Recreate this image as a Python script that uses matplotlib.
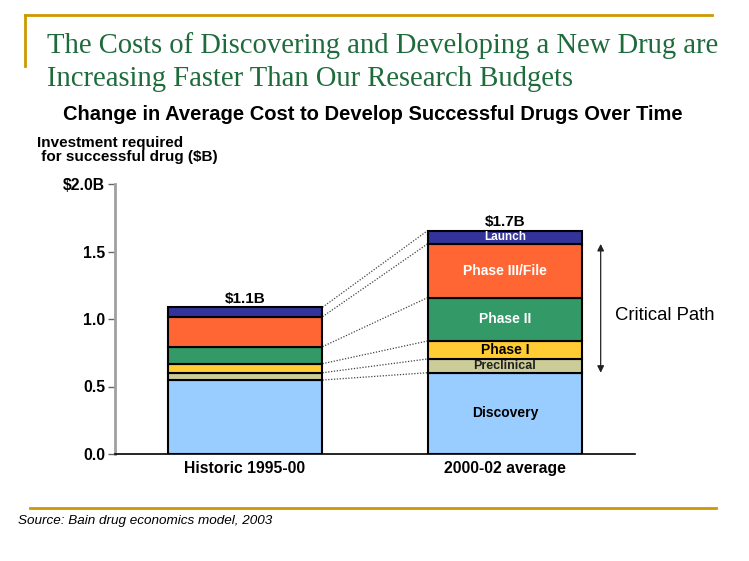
import numpy as np
import matplotlib.pyplot as plt
from matplotlib.lines import Line2D

# data
periods = ["Historic 1995-00", "2000-02 average"]
stages = ["Discovery", "Preclinical", "Phase I", "Phase II", "Phase III/File", "Launch"]
historic = [0.548, 0.054, 0.067, 0.126, 0.222, 0.070]
recent = [0.602, 0.102, 0.133, 0.321, 0.398, 0.098]
totals_text = ["$1.1B", "$1.7B"]
ytick_labels = ["0.0", "0.5", "1.0", "1.5", "$2.0B"]

colors = ["#99CCFF", "#CCCC99", "#FFCC33", "#339966", "#FF6633", "#333399"]
label_colors = ["black", "#222222", "black", "white", "white", "white"]
label_sizes = [10, 9, 10, 10, 10, 8.5]

plt.rcParams["font.family"] = ["Liberation Sans", "DejaVu Sans"]

W, H = 749, 561
fig = plt.figure(figsize=(W / 100, H / 100), dpi=100)

def fx(px):
    return px / W

def fy(py):
    return 1 - py / H

ax = fig.add_axes([fx(115), fy(454), fx(635) - fx(115), fy(184) - fy(454)])

x = np.arange(len(periods))
width = 0.596
data = np.array([historic, recent])
bottoms = np.zeros(len(periods))
for i, stage in enumerate(stages):
    ax.bar(x, data[:, i], width, bottom=bottoms, color=colors[i],
           edgecolor="black", linewidth=1.5, zorder=3)
    bottoms += data[:, i]

# labels inside the right bar
cum = np.cumsum(recent)
for i, stage in enumerate(stages):
    mid = cum[i] - recent[i] / 2
    ax.text(x[1], mid, stage, ha="center", va="center", fontsize=label_sizes[i],
            fontweight="bold", color=label_colors[i], zorder=4)

# totals
for xi, tot, txt in zip(x, bottoms, totals_text):
    ax.text(xi, tot + 0.01, txt, ha="center", va="bottom", fontsize=11,
            fontweight="bold", zorder=4)

# dotted connectors between bars
cum_h = np.cumsum(historic)
levels_h = np.concatenate([[historic[0]], cum_h[1:]])
levels_r = np.concatenate([[recent[0]], cum[1:]])
for yh, yr in zip(levels_h, levels_r):
    ax.plot([x[0] + width / 2, x[1] - width / 2], [yh, yr], ls=(0, (1, 1.3)),
            color="#444444", lw=0.9, zorder=2)

# critical path arrow
ax.annotate("", xy=(1.368, cum[4]), xytext=(1.368, recent[0]),
            arrowprops=dict(arrowstyle="<|-|>", color="#222222", lw=0.9,
                            mutation_scale=10, shrinkA=0, shrinkB=0))
fig.text(fx(615), fy(316), "Critical Path", fontsize=13.3, va="center", ha="left")

ax.set_xlim(-0.5, 1.5)
ax.set_ylim(0, 2.0)
ax.set_yticks([0, 0.5, 1.0, 1.5, 2.0])
ax.set_yticklabels(ytick_labels, fontsize=11.3, fontweight="bold")
ax.set_xticks(x)
ax.set_xticklabels(periods, fontsize=11.3, fontweight="bold")
ax.tick_params(axis="x", length=0, pad=5)
ax.tick_params(axis="y", length=5, color="#666666", width=1, pad=2)
ax.spines["top"].set_visible(False)
ax.spines["right"].set_visible(False)
ax.spines["left"].set_color("#A0A0A0")
ax.spines["left"].set_linewidth(2)
ax.spines["bottom"].set_color("black")
ax.spines["bottom"].set_linewidth(1.2)

# slide decoration
gold = "#CC9900"
fig.add_artist(Line2D([fx(25), fx(712)], [fy(15), fy(15)], color=gold, lw=2))
fig.add_artist(Line2D([fx(25), fx(25)], [fy(15), fy(66)], color=gold, lw=2))
fig.add_artist(Line2D([fx(30), fx(716)], [fy(508), fy(508)], color=gold, lw=2))

green = "#1E6B3C"
fig.text(fx(47), fy(53), "The Costs of Discovering and Developing a New Drug are",
         family=["Liberation Serif", "DejaVu Serif"], fontsize=20.6, color=green,
         va="baseline")
fig.text(fx(47), fy(86), "Increasing Faster Than Our Research Budgets",
         family=["Liberation Serif", "DejaVu Serif"], fontsize=20.6, color=green,
         va="baseline")
fig.text(fx(373), fy(115), "Change in Average Cost to Develop Successful Drugs Over Time",
         fontsize=14.5, fontweight="bold", ha="center", va="center")
fig.text(fx(37), fy(150), "Investment required\n for successful drug ($B)",
         fontsize=11, fontweight="bold", ha="left", va="center", linespacing=1.0)
fig.text(fx(18), fy(521), "Source: Bain drug economics model, 2003",
         fontsize=9.7, style="italic", ha="left", va="center")

fig.savefig("out.png", dpi=100)
